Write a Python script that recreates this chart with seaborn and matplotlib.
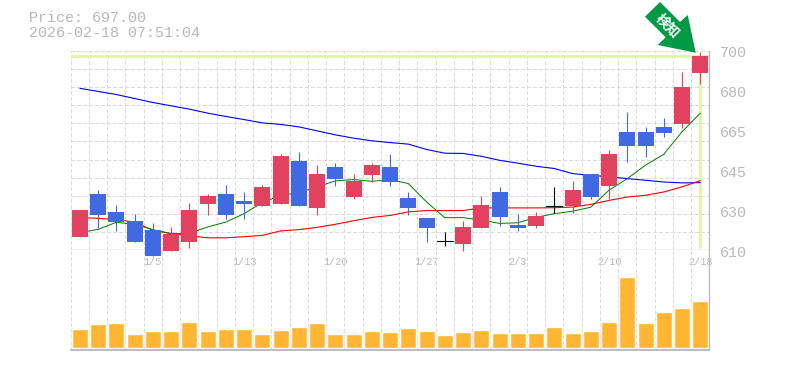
import matplotlib
matplotlib.use("Agg")
import matplotlib.pyplot as plt
from matplotlib.patches import Polygon
from matplotlib.transforms import Affine2D
import numpy as np
import pandas as pd
import seaborn as sns

date_ticks = {4: "1/5", 9: "1/13", 14: "1/20", 19: "1/27", 24: "2/3", 29: "2/10", 34: "2/18"}
y_tick_labels = ["700", "680", "665", "645", "630", "610"]

opens = [615.1,634.5,626.4,622.3,618.3,608.8,612.8,630.0,634.5,631.4,629.1,630.0,649.5,628.2,646.8,633.2,643.1,646.8,632.7,623.7,613.3,611.9,619.2,635.5,620.5,620.1,629.4,629.1,643.6,638.2,662.6,662.6,664.9,666.2,689.3]
closes = [627.3,625.0,621.9,612.8,606.9,616.4,627.3,633.6,625.0,630.0,637.7,651.7,629.1,643.6,641.3,640.4,647.7,640.0,628.2,619.2,613.3,619.6,629.6,624.1,619.2,624.6,629.4,636.4,633.2,652.6,656.3,656.3,662.2,683.0,697.0]
highs = [627.3,636.4,629.6,625.5,621.4,619.6,630.5,634.5,638.6,635.5,638.6,652.6,653.6,647.7,648.6,643.6,648.6,652.6,635.5,623.7,617.4,622.3,633.6,637.7,625.5,626.4,637.7,640.4,643.6,654.5,671.7,664.9,668.9,689.8,698.8]
lows = [615.1,619.2,617.8,612.8,606.9,608.8,610.1,625.0,623.2,623.2,629.1,630.0,629.1,625.0,638.2,632.3,640.0,638.2,625.0,612.8,611.0,608.8,619.2,620.1,617.8,619.2,626.0,626.0,632.3,632.3,649.0,651.3,660.3,664.4,684.3]
ma_long = [682.4,681.0,679.6,677.8,676.0,674.5,673.0,671.2,669.7,668.3,666.8,666.1,665.0,663.2,661.4,659.9,658.7,657.9,657.2,654.8,653.1,653.0,651.7,649.9,648.6,647.2,646.2,643.9,643.1,642.5,641.6,640.9,640.1,639.7,639.8]
ma_mid = [624.0,623.7,623.1,622.0,618.3,616.8,615.8,614.9,614.9,615.4,616.0,618.0,618.6,619.6,621.0,622.6,624.1,625.0,626.6,627.2,627.2,627.2,628.4,628.4,628.4,628.4,628.5,628.8,630.0,631.8,633.3,634.1,635.6,637.9,640.7]
ma_short = [617.2,618.7,621.9,621.0,618.6,616.8,616.9,619.8,622.0,625.8,630.8,634.1,635.2,637.9,640.6,641.2,640.4,641.2,639.4,631.1,624.0,624.0,622.9,621.4,621.7,624.1,625.8,626.9,628.7,636.4,641.6,647.7,652.6,662.8,671.2]
volumes = [1900,2400,2500,1400,1700,1700,2600,1700,1900,1900,1400,1800,2100,2500,1400,1400,1700,1600,2000,1700,1300,1600,1800,1500,1500,1500,2100,1500,1700,2600,7100,2500,3600,4000,4700]
last_price = 697.0

GRID = "#dadada"
AXIS = "#bdbdbd"
TEXT = "#b8b8b8"
UP = "#E2425F"
DOWN = "#4169E1"
VOL = "#FFB733"
HILITE = "#E4F5A8"
MONO = "Liberation Mono"

sns.set_theme(style="white")
plt.rcParams["font.family"] = [MONO, "DejaVu Sans"]

W, H = 785, 370
fig = plt.figure(figsize=(W / 100, H / 100), dpi=100, facecolor="white")
L, R = 70.7, 709.4
def axbox(top, bottom):
    return [L / W, 1 - bottom / H, (R - L) / W, (bottom - top) / H]
ax = fig.add_axes(axbox(50.9, 250.2))
axv = fig.add_axes(axbox(250.2, 350.0))

n = len(closes)
x = np.arange(n)
df = pd.DataFrame({"x": x, "o": opens, "c": closes, "h": highs, "l": lows,
                   "ml": ma_long, "mm": ma_mid, "ms": ma_short, "v": volumes})

for a in (ax, axv):
    a.set_xlim(-0.5, n - 0.5)
    a.set_facecolor("none")
    for s in a.spines.values():
        s.set_visible(False)
    for k in np.arange(-0.5, n, 1.0):
        a.axvline(k, color=GRID, lw=0.6, dashes=(4, 3), zorder=0, antialiased=False)

ax.set_ylim(609.3, 699.3)
axv.set_ylim(-200, 9780)

for g in np.linspace(609.3, 699.3, 12)[1:]:
    ax.axhline(g, color=GRID, lw=0.6, dashes=(4, 3), zorder=0, antialiased=False)

ax.axhline(last_price, color=HILITE, lw=2.2, zorder=1)
ax.plot([n - 1, n - 1], [last_price, 610.2], color=HILITE, lw=2.2, zorder=1, solid_capstyle="butt")

sns.lineplot(data=df, x="x", y="ml", ax=ax, color="#0000ff", lw=0.8, zorder=2)
sns.lineplot(data=df, x="x", y="mm", ax=ax, color="#ff0000", lw=0.8, zorder=2)
sns.lineplot(data=df, x="x", y="ms", ax=ax, color="#008000", lw=0.72, zorder=2)

bw = 16 / 18.25
for _, r in df.iterrows():
    col = "black" if r.o == r.c else (UP if r.c > r.o else DOWN)
    ax.plot([r.x, r.x], [r.l, r.h], color=col, lw=0.8, zorder=3, clip_on=False, solid_capstyle="butt")
    if r.o == r.c:
        ax.plot([r.x - bw / 2, r.x + bw / 2], [r.c, r.c], color=col, lw=0.8, zorder=3)
    else:
        ax.bar(r.x, abs(r.c - r.o), bottom=min(r.o, r.c), width=bw, color=col, lw=0, zorder=4, clip_on=False)

sns.barplot(data=df, x="x", y="v", ax=axv, native_scale=True, color=VOL, saturation=1, width=bw, zorder=3)
axv.set_xlim(-0.5, n - 0.5)

# frame lines
ax.axhline(609.3, color=AXIS, lw=1.0, zorder=3)
axv.axhline(-200, color=AXIS, lw=1.4, zorder=3, clip_on=False)
for a in (ax, axv):
    a.axvline(n - 0.5, color=AXIS, lw=1.0, zorder=3, clip_on=False)

# tick labels
ax.set_xticks(list(date_ticks))
ax.set_xticklabels(list(date_ticks.values()), fontsize=7.3, color=TEXT, family=MONO)
ax.tick_params(axis="x", length=0, pad=5.2)
ax.set_yticks([])
ax.set_xlabel(""); ax.set_ylabel("")
axv.set_xticks([]); axv.set_yticks([])
axv.set_xlabel(""); axv.set_ylabel("")
for t in ax.get_xticklabels():
    t.set_zorder(6)

for i, lab in enumerate(y_tick_labels):
    fig.text(719.5 / W, 1 - (53 + 40 * i) / H, lab, ha="left", va="center", fontsize=10.8, color=TEXT, family=MONO)

fig.text(29 / W, 1 - 18.3 / H, f"Price: {last_price:.2f}", ha="left", va="center", fontsize=10.8, color=TEXT, family=MONO)
fig.text(29 / W, 1 - 33.3 / H, "2026-02-18 07:51:04", ha="left", va="center", fontsize=10.8, color=TEXT, family=MONO)

# green arrow badge
px = Affine2D().scale(1, -1).translate(0, H)
arrow = [(660, 2), (680, 22), (687.7, 15), (695.7, 52.7), (657.7, 45), (665.7, 37.3), (645, 16.7)]
fig.add_artist(Polygon(arrow, closed=True, transform=px, facecolor="#009944", edgecolor="none", zorder=10))
fig.text(667.5 / W, 1 - 26 / H, "検知", rotation=-45, rotation_mode="anchor", ha="center", va="center",
         fontsize=10, fontweight="bold", color="white", family=["Noto Sans CJK JP", "DejaVu Sans"], zorder=11)

fig.savefig("out.png", dpi=100, facecolor="white")
